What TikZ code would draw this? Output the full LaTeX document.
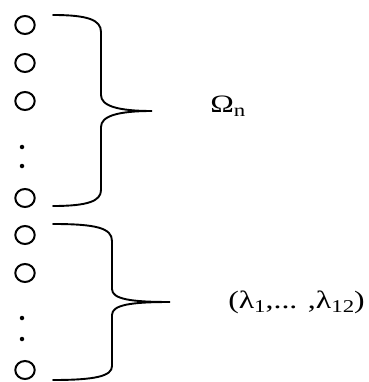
\documentclass[tikz,border=0pt]{standalone}
\usepackage{fontspec}
\setmainfont{Liberation Serif}
\usetikzlibrary{positioning}
\newcommand{\lowsub}[1]{\raisebox{-4pt}{\fontsize{18}{18}\selectfont #1}}

\begin{document}
\begin{tikzpicture}[x=1pt,y=-1pt,
  site/.style={draw,circle,line width=2pt,minimum size=18pt,inner sep=0pt,xscale=1.08},
  vdot/.style={fill,circle,inner sep=0pt,minimum size=4.5pt},
  brace/.style={line width=1.9pt,line cap=round},
  tag/.style={font=\fontsize{25}{27}\selectfont,inner sep=0pt,xscale=1.27}
]
\useasboundingbox (0,0) rectangle (368,382);

% Sites
\node[site] (s1) at (25,25) {};
\node[site] (s2) at (25,63) {};
\node[site] (s3) at (25,101) {};
\node[vdot] (d1) at (22,147) {};
\node[vdot] (d2) at (22,166) {};
\node[site] (s4) at (25,198) {};
\node[site] (s5) at (25,235) {};
\node[site] (s6) at (25,273) {};
\node[vdot] (d3) at (22,318) {};
\node[vdot] (d4) at (22,339) {};
\node[site] (s7) at (25,370) {};

% Brace ends and tips
\coordinate (atop) at (53,15);
\coordinate (atip) at (152,111);
\coordinate (abot) at (53,206);
\coordinate (btop) at (53,224);
\coordinate (btip) at (170,302);
\coordinate (bbot) at (53,380);

% Braces
\draw[brace] (atop) .. controls (88,15) and (101,20) .. (101,32) -- (101,95)
  .. controls (101,106) and (118,111) .. (atip)
  .. controls (118,111) and (101,116) .. (101,127) -- (101,190)
  .. controls (101,201) and (88,206) .. (abot);
\draw[brace] (btop) .. controls (96,224) and (112,228) .. (112,241) -- (112,289)
  .. controls (112,299) and (130,302) .. (btip)
  .. controls (130,302) and (112,305) .. (112,315) -- (112,366)
  .. controls (112,376) and (96,380) .. (bbot);

% Labels
\node[tag,anchor=base west] (omega) at (210,113) {Ω\lowsub{n}};
\node[tag,anchor=base west] (lambda) at (228,308) {(λ\lowsub{1},... ,λ\lowsub{12})};

\end{tikzpicture}
\end{document}
